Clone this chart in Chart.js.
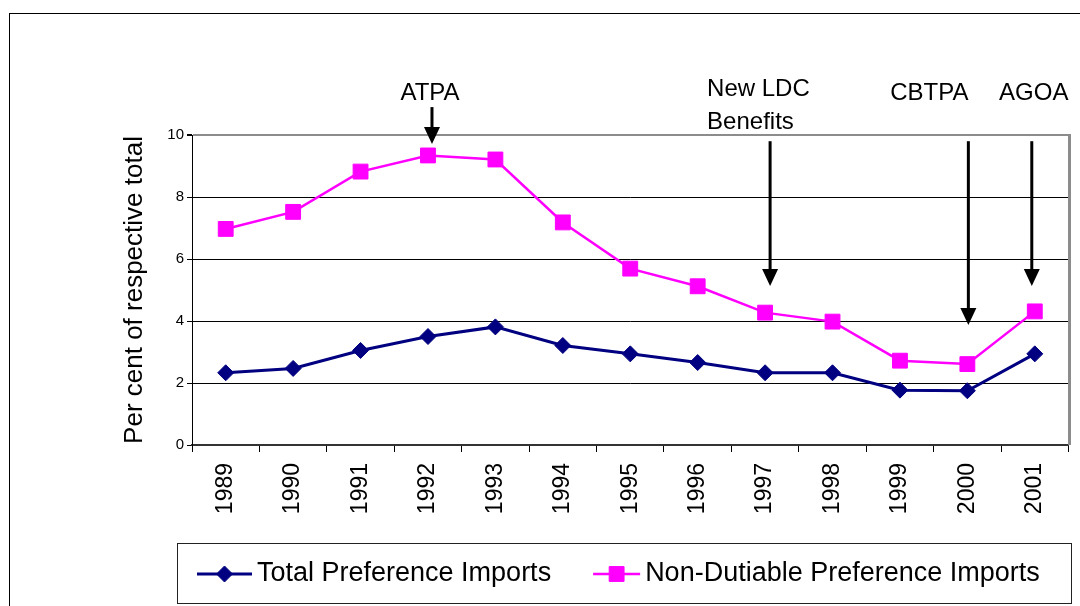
<!DOCTYPE html>
<html>
<head>
<meta charset="utf-8">
<script src="https://cdn.jsdelivr.net/npm/chart.js@4.4.0/dist/chart.umd.min.js"></script>
<style>
html, body { margin: 0; padding: 0; background: #fff; }
#wrap { width: 1080px; height: 606px; }
</style>
</head>
<body>
<div id="wrap"><canvas id="prefs" width="1080" height="606"></canvas></div>
<script>
const years = ['1989', '1990', '1991', '1992', '1993', '1994', '1995', '1996', '1997', '1998', '1999', '2000', '2001'];
const totalPreference = [2.33, 2.47, 3.05, 3.5, 3.81, 3.21, 2.94, 2.66, 2.33, 2.33, 1.77, 1.75, 2.94];
const nonDutiablePreference = [6.97, 7.52, 8.82, 9.34, 9.21, 7.18, 5.69, 5.12, 4.27, 3.98, 2.72, 2.61, 4.31];
const yTicks = [0, 2, 4, 6, 8, 10];

// policy events marked with arrows
const eventNames = [['ATPA'], ['New LDC', 'Benefits'], ['CBTPA'], ['AGOA']];
const eventYears = ['1992', '1997', '2000', '2001'];
const eventTops = [10.9, 9.8, 9.8, 9.8];
const eventTips = [9.71, 5.13, 3.87, 5.13];

const FONT = "'Liberation Sans', Arial, sans-serif";

// where each arrow / label sits relative to its year (pixels)
const eventLayout = [
  { dx: 4, align: 'center', tx: -2, ty: [93] },
  { dx: 5, align: 'left', tx: -63, ty: [89, 122] },
  { dx: 1, align: 'center', tx: -39, ty: [93] },
  { dx: -3, align: 'center', tx: 2, ty: [93] }
];
// legend sample line lengths
const legendLines = [55, 47];

function drawMarker(ctx, style, x, y, r, color) {
  ctx.save();
  ctx.fillStyle = color;
  ctx.strokeStyle = color;
  ctx.lineWidth = 1;
  ctx.beginPath();
  if (style === 'rectRot') {
    ctx.moveTo(x - r, y);
    ctx.lineTo(x, y - r);
    ctx.lineTo(x + r, y);
    ctx.lineTo(x, y + r);
    ctx.closePath();
  } else {
    const s = Math.SQRT1_2 * r;
    ctx.rect(x - s, y - s, 2 * s, 2 * s);
  }
  ctx.fill();
  ctx.stroke();
  ctx.restore();
}

const decor = {
  id: 'decor',
  afterDraw(chart) {
    const ctx = chart.ctx;
    const area = chart.chartArea;
    const xs = chart.scales.x;
    const ys = chart.scales.y;
    ctx.save();

    // outer frame
    ctx.strokeStyle = '#000';
    ctx.lineWidth = 1;
    ctx.strokeRect(9.5, 13.5, 1200, 700);

    // plot area right edge
    ctx.strokeStyle = '#8c8c8c';
    ctx.lineWidth = 3;
    ctx.beginPath();
    ctx.moveTo(area.right + 1, area.top - 1);
    ctx.lineTo(area.right + 1, area.bottom);
    ctx.stroke();

    // arrows + labels
    ctx.fillStyle = '#000';
    ctx.strokeStyle = '#000';
    ctx.font = '24px ' + FONT;
    ctx.textBaseline = 'middle';
    eventYears.forEach((yr, i) => {
      const lay = eventLayout[i];
      const x = xs.getPixelForValue(years.indexOf(yr)) + lay.dx;
      const top = ys.getPixelForValue(eventTops[i]);
      const tip = ys.getPixelForValue(eventTips[i]);
      ctx.lineWidth = 3;
      ctx.beginPath();
      ctx.moveTo(x, top);
      ctx.lineTo(x, tip - 10);
      ctx.stroke();
      ctx.beginPath();
      ctx.moveTo(x - 8, tip - 17);
      ctx.lineTo(x + 8, tip - 17);
      ctx.lineTo(x, tip);
      ctx.closePath();
      ctx.fill();
      ctx.textAlign = lay.align;
      eventNames[i].forEach((line, j) => {
        ctx.fillText(line, x + lay.tx, lay.ty[j]);
      });
    });

    // legend
    const box = { left: 177, top: 543, width: 894, height: 60 };
    ctx.strokeStyle = '#222';
    ctx.lineWidth = 1;
    ctx.strokeRect(box.left + 0.5, box.top + 0.5, box.width, box.height);
    ctx.font = '27px ' + FONT;
    ctx.textAlign = 'left';
    const ly = box.top + 31;
    let lx = 197;
    chart.data.datasets.forEach((ds, i) => {
      const len = legendLines[i];
      ctx.strokeStyle = ds.borderColor;
      ctx.lineWidth = ds.borderWidth;
      ctx.beginPath();
      ctx.moveTo(lx, ly);
      ctx.lineTo(lx + len, ly);
      ctx.stroke();
      drawMarker(ctx, ds.pointStyle, lx + len / 2, ly, ds.pointRadius, ds.borderColor);
      ctx.fillStyle = '#000';
      ctx.fillText(ds.label, lx + len + 5, ly);
      lx += len + 5 + ctx.measureText(ds.label).width + 42;
    });
    ctx.restore();
  }
};

new Chart(document.getElementById('prefs'), {
  type: 'line',
  data: {
    labels: years,
    datasets: [{
      label: 'Total Preference Imports',
      data: totalPreference,
      borderColor: '#000080',
      backgroundColor: '#000080',
      borderWidth: 3,
      pointStyle: 'rectRot',
      pointRadius: 8,
      pointBorderWidth: 1,
      tension: 0
    }, {
      label: 'Non-Dutiable Preference Imports',
      data: nonDutiablePreference,
      borderColor: '#ff00ff',
      backgroundColor: '#ff00ff',
      borderWidth: 2.5,
      pointStyle: 'rect',
      pointRadius: 10.5,
      pointBorderWidth: 1,
      tension: 0
    }]
  },
  options: {
    responsive: false,
    animation: false,
    devicePixelRatio: 1,
    layout: { padding: { left: 115, top: 135, right: 5, bottom: 0 } },
    plugins: {
      legend: { display: false },
      tooltip: { enabled: false }
    },
    scales: {
      x: {
        offset: true,
        grid: { offset: true, drawOnChartArea: false, drawTicks: true, tickLength: 7, tickColor: '#000', tickWidth: 1 },
        border: { color: '#333', width: 2 },
        ticks: { minRotation: 90, maxRotation: 90, padding: 11, color: '#000', font: { size: 23, family: FONT } },
        afterFit: s => { s.height = 161; }
      },
      y: {
        min: 0,
        max: 10,
        afterBuildTicks: s => { s.ticks = yTicks.map(v => ({ value: v })); },
        grid: {
          color: c => c.tick.value === 10 ? '#8c8c8c' : (c.tick.value === 0 ? 'rgba(0,0,0,0)' : '#000'),
          lineWidth: c => c.tick.value === 10 ? 2 : 1,
          tickLength: 5,
          tickColor: '#000'
        },
        border: { color: '#000', width: 1 },
        ticks: { padding: 3, color: '#000', font: { size: 15, family: FONT } },
        title: { display: true, text: 'Per cent of respective total', color: '#000', font: { size: 26, family: FONT }, padding: { top: 4, bottom: 0 } },
        afterFit: s => { s.width = 77; }
      }
    }
  },
  plugins: [decor]
});
</script>
</body>
</html>
